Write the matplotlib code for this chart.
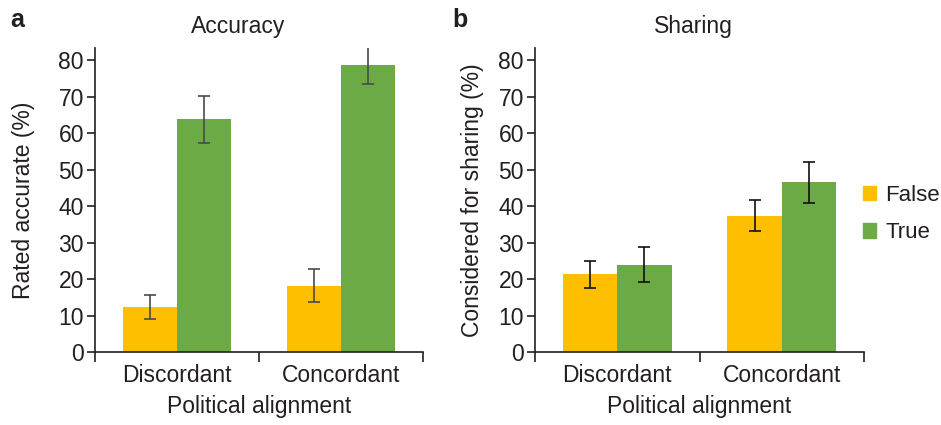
import numpy as np
import matplotlib
matplotlib.use('Agg')
import matplotlib.pyplot as plt
from matplotlib.patches import Patch

# Input Data
alignment = ['Discordant', 'Concordant']
series = ['False', 'True']

acc_false = [12.3, 18.2]
acc_false_err = [3.3, 4.6]
acc_true = [63.8, 78.6]
acc_true_err = [6.4, 5.0]

share_false = [21.3, 37.4]
share_false_err = [3.7, 4.3]
share_true = [24.0, 46.6]
share_true_err = [4.9, 5.6]

yticks = [0, 10, 20, 30, 40, 50, 60, 70, 80]

orange = '#FDBF00'
green = '#6BAA45'
ink = '#231F20'
fs = 16.5

plt.rcParams['font.family'] = ['Liberation Sans', 'DejaVu Sans']
plt.rcParams['text.color'] = ink
plt.rcParams['axes.labelcolor'] = ink
plt.rcParams['xtick.color'] = ink
plt.rcParams['ytick.color'] = ink

fig = plt.figure(figsize=(9.41, 4.25), dpi=100)
ax_a = fig.add_axes([95 / 941, 1 - 352 / 425, 328 / 941, 304 / 425])
ax_b = fig.add_axes([535 / 941, 1 - 352 / 425, 329 / 941, 304 / 425])

x = np.arange(len(alignment))
w = 0.33


def draw_panel(ax, f, fe, t, te, ylabel, ecolor, label_x):
    ax.bar(x - w / 2, f, w, color=orange, linewidth=0)
    ax.bar(x + w / 2, t, w, color=green, linewidth=0)
    ax.errorbar(x - w / 2, f, yerr=fe, fmt='none', ecolor=ecolor,
                elinewidth=1.2, capsize=4, capthick=1.2)
    ax.errorbar(x + w / 2, t, yerr=te, fmt='none', ecolor=ecolor,
                elinewidth=1.2, capsize=4, capthick=1.2)
    ax.set_xlim(-0.5, 1.5)
    ax.set_ylim(0, 83.4)
    ax.set_yticks(yticks)
    ax.tick_params(axis='y', labelsize=fs, length=6, width=1.2, pad=2)
    ax.set_xticks(x)
    ax.set_xticklabels(alignment)
    ax.tick_params(axis='x', which='major', length=0, labelsize=fs, pad=9)
    ax.set_xticks([-0.5, 0.5, 1.5], minor=True)
    ax.tick_params(axis='x', which='minor', length=7, width=1.2)
    for s in ['top', 'right']:
        ax.spines[s].set_visible(False)
    for s in ['left', 'bottom']:
        ax.spines[s].set_linewidth(1.2)
        ax.spines[s].set_color(ink)
    ax.set_ylabel(ylabel, fontsize=fs, va='center')
    ax.yaxis.set_label_coords(label_x, 0.5)
    ax.set_xlabel('Political alignment', fontsize=fs, va='center')
    ax.xaxis.set_label_coords(0.5, -0.178)


draw_panel(ax_a, acc_false, acc_false_err, acc_true, acc_true_err,
           'Rated accurate (%)', '#4A4A4A', -0.218)
draw_panel(ax_b, share_false, share_false_err, share_true, share_true_err,
           'Considered for sharing (%)', '#111111', -0.19)

fig.text(238 / 941, 1 - 26 / 425, 'Accuracy', ha='center', va='center', fontsize=fs)
fig.text(693 / 941, 1 - 26 / 425, 'Sharing', ha='center', va='center', fontsize=fs)
fig.text(10 / 941, 1 - 20 / 425, 'a', ha='left', va='center', fontsize=18, fontweight='bold')
fig.text(452 / 941, 1 - 20 / 425, 'b', ha='left', va='center', fontsize=18, fontweight='bold')

handles = [Patch(color=orange, label=series[0]), Patch(color=green, label=series[1])]
fig.legend(handles=handles, loc='center left', bbox_to_anchor=(863 / 941, 1 - 214 / 425),
           frameon=False, fontsize=16, handlelength=0.6, handleheight=0.6,
           handletextpad=0.4, labelspacing=0.75, borderaxespad=0, borderpad=0)

fig.savefig('out.png', dpi=100)
